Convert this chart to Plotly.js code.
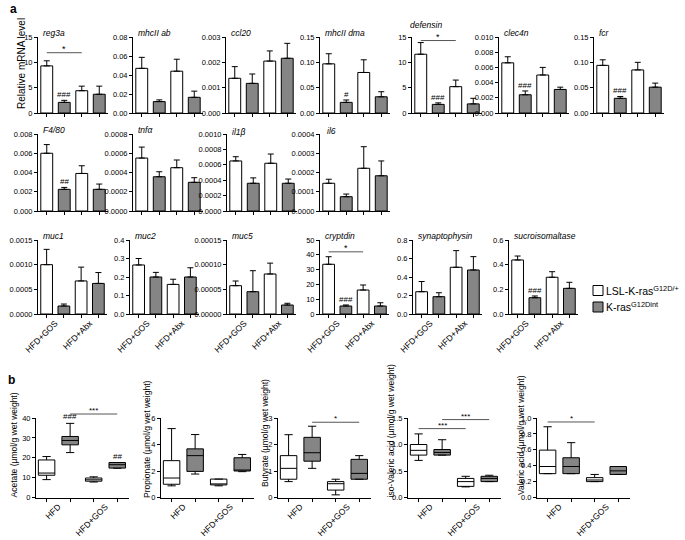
<!DOCTYPE html>
<html><head><meta charset="utf-8">
<script src="https://cdn.plot.ly/plotly-3.0.1.min.js"></script>
<style>html,body{margin:0;padding:0;background:#fff;} #chart{width:685px;height:540px;}</style>
</head><body><div id="chart"></div>
<script>
// ---------- DATA: panel a (relative mRNA level, mean and upper SEM) ----------
const genes = ['reg3a','mhcII ab','ccl20','mhcII dma','defensin','clec4n','fcr',
               'F4/80','tnfα','il1β','il6',
               'muc1','muc2','muc5','cryptdin','synaptophysin','sucroisomaltase'];
const groupLabels = ['HFD+GOS','HFD+Abx'];
const lslGOS = [9.3,0.047,0.00137,0.097,11.6,0.0066,0.094, 0.0060,0.00055,0.00065,0.000144, 0.00100,0.265,0.0000574,33.6,0.241,0.438];
const intGOS = [2.1,0.012,0.00117,0.021,1.7,0.0024,0.029, 0.00225,0.000356,0.00036,0.0000743, 0.000162,0.20,0.0000452,5.4,0.187,0.132];
const lslAbx = [4.4,0.044,0.00205,0.080,5.2,0.0050,0.085, 0.0039,0.00045,0.00062,0.000222, 0.00067,0.16,0.0000811,16.2,0.505,0.298];
const intAbx = [3.7,0.0165,0.00216,0.032,1.8,0.0031,0.051, 0.00225,0.000298,0.00036,0.000183, 0.00062,0.20,0.0000182,5.4,0.476,0.208];
const lslGOSsem = [1.0,0.0116,0.00046,0.020,2.3,0.0008,0.011, 0.0009,0.000114,0.000055,0.000021, 0.00031,0.035,0.0000095,5.1,0.11,0.032];
const intGOSsem = [0.4,0.0018,0.00037,0.0047,0.3,0.0005,0.0036, 0.0002,0.000052,0.00007,0.0000137, 0.00004,0.025,0.0000426,0.7,0.043,0.014];
const lslAbxsem = [0.9,0.0126,0.0004,0.025,1.3,0.001,0.015, 0.0008,0.00008,0.00012,0.000112, 0.00028,0.028,0.000022,3.4,0.18,0.045];
const intAbxsem = [1.6,0.0065,0.00059,0.010,1.1,0.0003,0.008, 0.00055,0.000048,0.000055,0.000077, 0.00022,0.05,0.0000035,2.2,0.144,0.049];
const geneMax  = [15,0.08,0.003,0.15,15,0.010,0.15, 0.008,0.0008,0.0010,0.0004, 0.0015,0.4,0.00015,50,0.8,0.6];
const geneStep = [5,0.02,0.001,0.05,5,0.002,0.05, 0.002,0.0002,0.0002,0.0001, 0.0005,0.1,0.00005,10,0.2,0.2];
const geneMarks = ['###','','','#','###','###','###','##','','','','','','','###','','###'];
// significance bars (gene, from bar, to bar, height, label)
const sigGene = ['reg3a','defensin','cryptdin'];
const sigFrom = [0,0,0];
const sigTo   = [2,2,2];
const sigY    = [11.9,14.3,42];
const sigText = ['*','*','*'];

// ---------- DATA: panel b (SCFA, box = [lower whisker, Q1, median, Q3, upper whisker]) ----------
const acids = ['Acetate','Propionate','Butyrate','iso-Valeric acid','Valeric acid'];
const acidGroups = ['HFD','HFD+GOS'];
const acetate    = [[9.0,11.2,12.3,18.9,20.6],[22.6,26.5,28.7,30.7,37.3],[7.8,8.2,8.9,9.8,10.4],[14.7,14.8,16.5,17.6,17.6]];
const propionate = [[0.88,1.0,1.47,2.78,5.2],[1.77,1.97,3.16,3.67,4.75],[0.88,0.95,1.0,1.39,1.39],[1.95,2.0,2.05,3.0,3.25]];
const butyrate   = [[0.6,0.69,1.1,1.58,2.37],[1.1,1.37,1.69,2.27,2.69],[0.1,0.28,0.52,0.6,0.69],[0.69,0.69,0.91,1.44,1.58]];
const isoValeric = [[0.7,0.8,0.89,1.0,1.2],[0.8,0.8,0.85,0.905,1.09],[0.2,0.21,0.3,0.36,0.4],[0.3,0.3,0.36,0.4,0.42]];
const valeric    = [[0.3,0.3,0.39,0.596,0.89],[0.3,0.3,0.39,0.5,0.69],[0.2,0.2,0.22,0.25,0.29],[0.29,0.29,0.335,0.39,0.39]];
const acidMax  = [40,6,3,1.5,1.0];
const acidStep = [10,2,1,0.5,0.2];
const acidMarks = [['','###','','##'],['','','',''],['','','',''],['','','',''],['','','','']];
const bSigAcid = ['Acetate','Butyrate','iso-Valeric acid','iso-Valeric acid','Valeric acid'];
const bSigFrom = [1,1,0,1,0];
const bSigTo   = [3,3,2,3,2];
const bSigY    = [42,2.84,1.3,1.47,0.95];
const bSigText = ['***','*','***','***','*'];

// ---------- STYLE / LAYOUT ----------
const W = 685, H = 540;
const FONT = 'Liberation Sans, Arial, sans-serif';
const WHITE = '#ffffff', GRAY = '#858585';
const genePos = [
  [38,37,113,70],[133,37,113,70],[226,37,113,70],[320,37,113,70],[412,37,113,70],[499,37,113,70],[594,37,113,70],
  [38,134,211,70],[133,134,211,70],[227,134,211,70],[320,134,211,70],
  [38,240,314,69],[130,240,314,69],[227,240,314,69],[320,240,314,69],[413,240,314,69],[509,240,314,69]];
const titleNudge = {'defensin': [-7, -8], 'il1β': [0, 2], 'il6': [2, 1]};
const acidPos = [[36,418,497.5,93],[161,418,497.5,93],[278,418,497.5,93],[408,418,497.5,93],[537,418,497.5,93]];
const acidTitleX = [13,147,265,390,521];
const acidTitleBottom = [500,500,489,500,497];

const layout = {
  width: W, height: H, margin: {l:0,r:0,t:0,b:0},
  paper_bgcolor: '#fff', plot_bgcolor: 'rgba(0,0,0,0)',
  showlegend: false, hovermode: false,
  font: {family: FONT, color: '#000', size: 9},
  annotations: [], shapes: []
};
const traces = [];
const sfx = id => (id === 1 ? '' : String(id));
const decimals = s => Math.max(0, Math.ceil(-Math.log10(s) - 1e-9));

function yTicks(max, step) {
  const n = Math.round(max / step), vals = [], txt = [], d = decimals(step);
  for (let k = 0; k <= n; k++) { vals.push(k * step); txt.push((k * step).toFixed(d)); }
  return {vals, txt};
}

function makeAxes(id, pos, max, step, xrange, labels, labelSize) {
  const [x0, top, bottom, len] = pos;
  const t = yTicks(max, step);
  const xa = {
    domain: [x0 / W, (x0 + len) / W], anchor: 'y' + sfx(id), range: xrange, fixedrange: true,
    showline: true, linecolor: '#000', linewidth: 1, showgrid: false, zeroline: false,
    tickfont: {family: FONT, size: labelSize || 8, color: '#000'}
  };
  if (labels) {
    Object.assign(xa, {tickmode: 'array', tickvals: [0.5, 2.5], ticktext: labels, ticks: '', tickangle: -45,
      minor: {tickmode: 'array', tickvals: [0,1,2,3], ticks: 'outside', ticklen: 3, tickwidth: 1, tickcolor: '#000', showgrid: false}});
  } else {
    Object.assign(xa, {tickmode: 'array', tickvals: [0,1,2,3], showticklabels: false, ticks: 'outside', ticklen: 3, tickwidth: 1, tickcolor: '#000'});
  }
  layout['xaxis' + sfx(id)] = xa;
  layout['yaxis' + sfx(id)] = {
    domain: [1 - bottom / H, 1 - top / H], anchor: 'x' + sfx(id), range: [0, max], fixedrange: true,
    showline: true, linecolor: '#000', linewidth: 1, showgrid: false, zeroline: false,
    tickmode: 'array', tickvals: t.vals, ticktext: t.txt, ticks: 'outside', ticklen: 3, tickwidth: 1, tickcolor: '#000',
    tickfont: {family: FONT, size: 7.5, color: '#000'}
  };
}

// ----- panel a -----
genes.forEach((g, i) => {
  const id = i + 1;
  const isRow3 = i >= 11;
  makeAxes(id, genePos[i], geneMax[i], geneStep[i], [-0.5, 3.5], isRow3 ? groupLabels : null, 8.5);
  traces.push({
    type: 'bar', xaxis: 'x' + sfx(id), yaxis: 'y' + sfx(id),
    x: [0, 1, 2, 3], y: [lslGOS[i], intGOS[i], lslAbx[i], intAbx[i]], width: 0.68,
    marker: {color: [WHITE, GRAY, WHITE, GRAY], line: {color: '#000', width: 1}},
    error_y: {type: 'data', symmetric: false, array: [lslGOSsem[i], intGOSsem[i], lslAbxsem[i], intAbxsem[i]],
              arrayminus: [0, 0, 0, 0], color: '#000', thickness: 1, width: 3},
    hoverinfo: 'skip'
  });
  const [x0, top] = genePos[i];
  const nd = titleNudge[g] || [0, 0];
  layout.annotations.push({text: g, xref: 'paper', yref: 'paper', x: (x0 + 3 + nd[0]) / W, y: 1 - (top - 4 + nd[1]) / H,
    xanchor: 'left', yanchor: 'middle', showarrow: false, font: {family: FONT, size: 8.5, style: 'italic'}});
  if (geneMarks[i]) {
    layout.annotations.push({text: geneMarks[i], xref: 'x' + sfx(id), yref: 'y' + sfx(id) + ' domain',
      x: 1, y: (intGOS[i] + intGOSsem[i]) / geneMax[i], xanchor: 'center', yanchor: 'bottom', yshift: -1,
      showarrow: false, font: {family: FONT, size: 8}});
  }
});
sigGene.forEach((g, k) => {
  const i = genes.indexOf(g), id = i + 1;
  const yd = sigY[k] / geneMax[i];
  layout.shapes.push({type: 'line', xref: 'x' + sfx(id), yref: 'y' + sfx(id) + ' domain',
    x0: sigFrom[k], x1: sigTo[k], y0: yd, y1: yd, line: {color: '#555', width: 1}});
  layout.annotations.push({text: sigText[k], xref: 'x' + sfx(id), yref: 'y' + sfx(id) + ' domain',
    x: (sigFrom[k] + sigTo[k]) / 2, y: yd, xanchor: 'center', yanchor: 'bottom', yshift: -3,
    showarrow: false, font: {family: FONT, size: 9}});
});

// ----- panel b -----
const acidData = [acetate, propionate, butyrate, isoValeric, valeric];
acids.forEach((a, j) => {
  const id = genes.length + j + 1;
  makeAxes(id, acidPos[j], acidMax[j], acidStep[j], [-0.45, 3.5], acidGroups, 8.5);
  const d = acidData[j];
  [[0, 2, WHITE], [1, 3, GRAY]].forEach(([p, q, col]) => {
    traces.push({
      type: 'box', xaxis: 'x' + sfx(id), yaxis: 'y' + sfx(id), x: [p, q],
      lowerfence: [d[p][0], d[q][0]], q1: [d[p][1], d[q][1]], median: [d[p][2], d[q][2]],
      q3: [d[p][3], d[q][3]], upperfence: [d[p][4], d[q][4]],
      width: 0.7, whiskerwidth: 0.5, fillcolor: col, line: {color: '#000', width: 1},
      boxpoints: false, hoverinfo: 'skip'
    });
  });
  acidMarks[j].forEach((m, b) => {
    if (!m) return;
    layout.annotations.push({text: m, xref: 'x' + sfx(id), yref: 'y' + sfx(id) + ' domain',
      x: b, y: d[b][4] / acidMax[j], xanchor: 'center', yanchor: 'bottom', yshift: 0,
      showarrow: false, font: {family: FONT, size: 8}});
  });
  layout.annotations.push({text: a + ' (µmol/g wet weight)', xref: 'paper', yref: 'paper',
    x: acidTitleX[j] / W, y: 1 - acidTitleBottom[j] / H, textangle: -90, xanchor: 'center', yanchor: 'bottom',
    showarrow: false, font: {family: FONT, size: 8.5}});
});
bSigAcid.forEach((a, k) => {
  const j = acids.indexOf(a), id = genes.length + j + 1;
  const yd = bSigY[k] / acidMax[j];
  layout.shapes.push({type: 'line', xref: 'x' + sfx(id), yref: 'y' + sfx(id) + ' domain',
    x0: bSigFrom[k], x1: bSigTo[k], y0: yd, y1: yd, line: {color: '#555', width: 1}});
  layout.annotations.push({text: bSigText[k], xref: 'x' + sfx(id), yref: 'y' + sfx(id) + ' domain',
    x: (bSigFrom[k] + bSigTo[k]) / 2, y: yd, xanchor: 'center', yanchor: 'bottom', yshift: -3,
    showarrow: false, font: {family: FONT, size: 8}});
});

// ----- panel letters, shared titles, legend -----
layout.annotations.push(
  {text: '<b>a</b>', xref: 'paper', yref: 'paper', x: 8 / W, y: 1 - 9 / H, xanchor: 'left', yanchor: 'middle', showarrow: false, font: {family: FONT, size: 12}},
  {text: '<b>b</b>', xref: 'paper', yref: 'paper', x: 6 / W, y: 1 - 380 / H, xanchor: 'left', yanchor: 'middle', showarrow: false, font: {family: FONT, size: 12}},
  {text: 'Relative mRNA level', xref: 'paper', yref: 'paper', x: 22 / W, y: 1 - 64 / H, textangle: -90, xanchor: 'center', yanchor: 'middle', showarrow: false, font: {family: FONT, size: 10}},
  {text: 'LSL-K-ras<sup>G12D/+</sup>', xref: 'paper', yref: 'paper', x: 604 / W, y: 1 - 290 / H, xanchor: 'left', yanchor: 'middle', showarrow: false, font: {family: FONT, size: 10.5}},
  {text: 'K-ras<sup>G12Dint</sup>', xref: 'paper', yref: 'paper', x: 604 / W, y: 1 - 306.5 / H, xanchor: 'left', yanchor: 'middle', showarrow: false, font: {family: FONT, size: 10.5}}
);
layout.shapes.push(
  {type: 'rect', xref: 'paper', yref: 'paper', x0: 593 / W, x1: 603 / W, y0: 1 - 295.5 / H, y1: 1 - 285.5 / H, fillcolor: WHITE, line: {color: '#000', width: 1}},
  {type: 'rect', xref: 'paper', yref: 'paper', x0: 593 / W, x1: 603 / W, y0: 1 - 312 / H, y1: 1 - 302 / H, fillcolor: GRAY, line: {color: '#000', width: 1}}
);

Plotly.newPlot('chart', traces, layout, {staticPlot: true, displayModeBar: false});
</script>
</body></html>
